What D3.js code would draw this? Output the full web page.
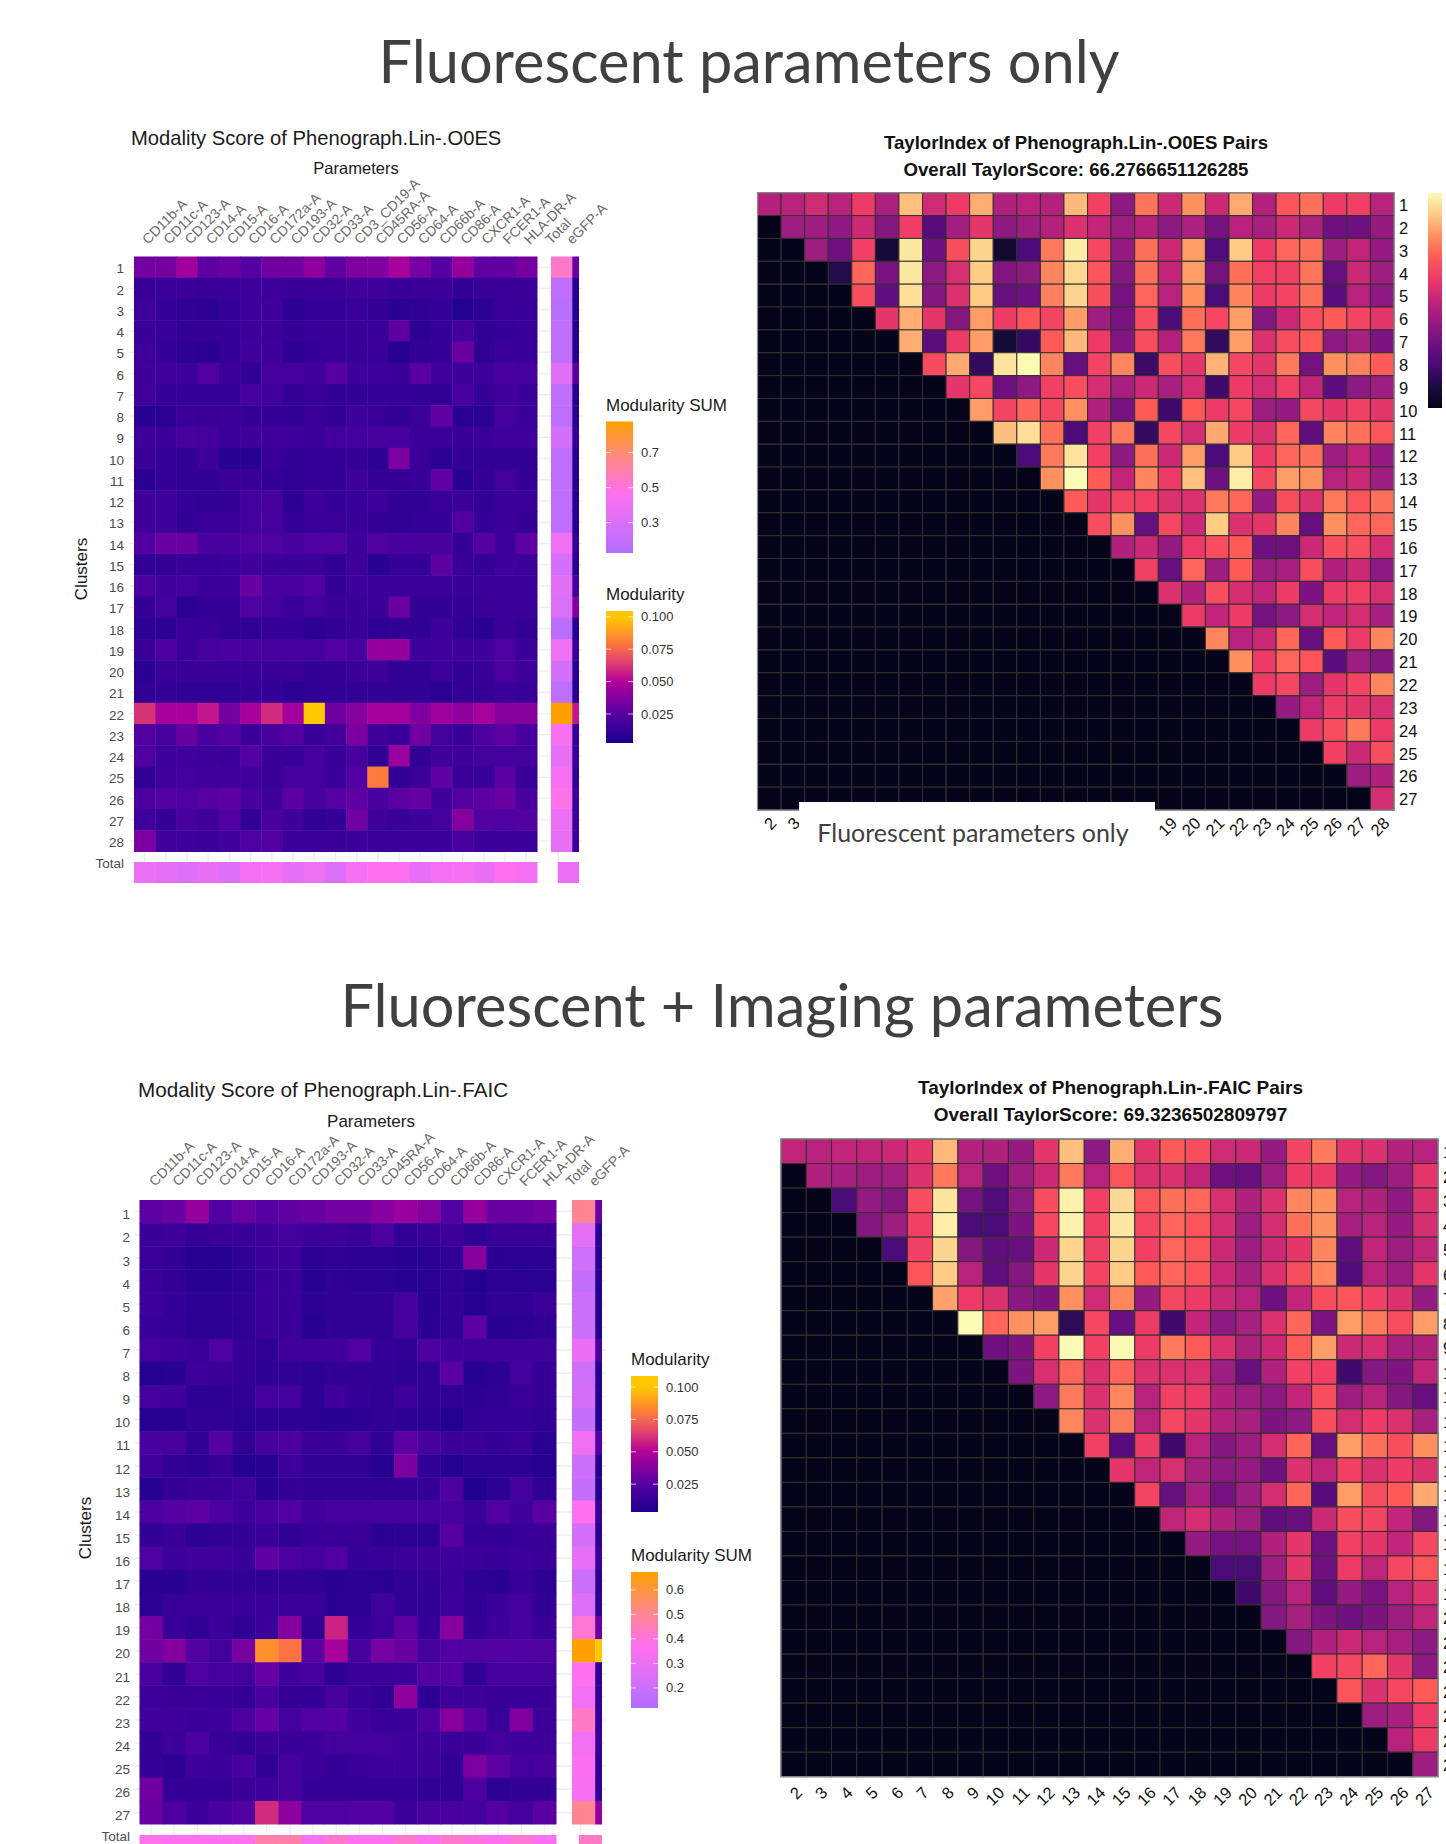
<!doctype html>
<html lang="en">
<head>
  <meta charset="utf-8">
  <title>Modality and TaylorIndex heatmaps</title>
  <script src="https://d3js.org/d3.v7.min.js"></script>
  <style>
    html, body { margin: 0; padding: 0; background: #fff; overflow: hidden; }
    svg { display: block; }
    text { font-family: "Liberation Sans", Arial, sans-serif; }
    .slide { font-family: Lato, "Open Sans", sans-serif; fill: #404040; }
  </style>
</head>
<body>
  <script type="text/javascript">
    // marker names on the two modality heatmaps
    var markersA = ["CD11b-A", "CD11c-A", "CD123-A", "CD14-A", "CD15-A", "CD16-A", "CD172a-A", "CD193-A", "CD32-A", "CD33-A", "CD3_CD19-A", "CD45RA-A", "CD56-A", "CD64-A", "CD66b-A", "CD86-A", "CXCR1-A", "FCER1-A", "HLA-DR-A"];
    var markersB = ["CD11b-A", "CD11c-A", "CD123-A", "CD14-A", "CD15-A", "CD16-A", "CD172a-A", "CD193-A", "CD32-A", "CD33-A", "CD45RA-A", "CD56-A", "CD64-A", "CD66b-A", "CD86-A", "CXCR1-A", "FCER1-A", "HLA-DR-A"];

    // modularity x 1000, one row per cluster
    var modularityA = [
      [33,33,45,27,30,25,32,32,40,28,35,36,47,34,25,42,28,28,33],
      [14,15,15,14,14,16,16,15,15,15,17,17,14,15,15,12,14,15,15],
      [16,13,11,10,13,16,17,10,13,13,14,12,9,11,13,6,10,15,14],
      [15,14,12,13,13,16,16,13,14,14,14,14,27,10,13,18,12,13,14],
      [16,13,10,9,13,17,17,10,13,14,14,14,7,12,13,30,11,15,14],
      [17,17,16,24,15,12,18,18,17,25,17,16,15,26,17,17,16,20,19],
      [17,13,13,13,13,19,17,12,14,12,12,13,13,12,12,20,13,17,15],
      [8,9,15,14,15,13,13,12,14,12,16,14,12,15,28,9,10,19,15],
      [16,15,20,18,14,17,17,16,14,18,18,20,19,15,15,15,15,17,17],
      [15,13,11,16,8,8,14,12,13,13,13,10,35,14,9,12,11,12,12],
      [9,13,12,12,15,14,13,11,13,13,16,13,13,14,28,9,12,18,13],
      [17,16,13,12,12,18,20,10,16,13,14,16,12,11,14,14,12,14,14],
      [17,16,12,14,14,18,19,13,14,14,15,12,12,13,13,24,13,15,13],
      [24,30,30,20,20,22,22,20,22,22,16,22,20,20,20,13,25,16,27],
      [12,12,14,14,15,17,15,15,15,11,16,8,13,13,27,14,13,17,15],
      [21,17,18,15,15,30,20,20,24,12,16,15,15,15,15,15,15,15,15],
      [13,18,9,13,13,22,19,15,18,15,15,15,30,12,12,13,14,15,15],
      [10,10,14,14,11,11,13,13,9,11,14,10,12,12,16,11,9,15,12],
      [15,21,14,19,20,20,18,18,18,23,20,42,42,16,17,17,16,22,15],
      [9,14,14,14,14,14,14,14,12,13,15,16,12,12,16,12,14,21,16],
      [12,13,11,11,11,13,13,10,11,12,12,12,12,12,9,12,13,15,14],
      [62,47,47,55,33,47,60,46,100,32,38,46,46,36,45,40,47,37,38],
      [24,18,30,20,24,15,20,24,14,18,35,17,14,32,18,14,21,28,20],
      [22,16,17,16,15,24,15,14,19,14,19,11,43,12,17,17,18,18,18],
      [11,17,18,17,17,17,14,18,19,15,24,80,12,15,28,14,14,26,14],
      [21,23,22,25,27,20,16,26,19,25,28,20,27,29,17,23,27,30,20],
      [16,13,20,17,24,12,20,17,11,13,32,16,14,17,18,38,24,22,23],
      [35,17,16,15,17,22,24,15,15,15,15,14,14,14,15,20,15,15,15]
    ];
    var rowSumA = [.54,.19,.16,.18,.18,.33,.20,.19,.27,.19,.18,.19,.19,.40,.28,.33,.31,.17,.40,.27,.19,.877,.44,.36,.42,.48,.38,.36];
    var rowGfpA = [30,8,7,9,8,26,9,10,13,9,9,8,8,13,10,18,36,9,14,10,9,55,13,14,11,16,16,15];
    var colSumA = [.38,.34,.32,.36,.32,.41,.43,.35,.39,.31,.42,.46,.46,.36,.41,.43,.37,.46,.41];
    var gfpSumA = [.38];

    var modularityB = [
      [27,30,42,24,30,25,28,30,33,33,38,43,37,24,42,30,30,32],
      [15,16,13,14,14,16,18,16,16,14,21,11,14,16,11,14,14,14],
      [14,11,7,7,11,15,16,9,11,10,10,8,9,11,38,9,9,10],
      [15,12,8,8,10,15,15,8,11,10,10,8,9,11,6,10,9,9],
      [16,13,10,10,12,15,15,10,11,11,12,18,9,12,7,11,11,15],
      [14,13,9,9,11,15,15,8,11,11,11,18,9,11,27,8,9,11],
      [18,17,14,22,13,11,17,17,17,23,13,11,21,17,17,17,17,17],
      [7,8,16,14,13,10,11,9,12,12,11,10,11,26,7,10,18,13],
      [18,17,10,10,12,18,18,10,16,13,11,16,11,11,10,12,14,13],
      [7,7,12,11,9,10,10,9,8,9,11,10,10,6,12,13,13,12],
      [20,20,11,25,11,20,21,14,15,18,11,26,20,15,14,13,15,9],
      [17,12,10,14,7,7,16,12,12,12,7,35,12,7,10,9,10,7],
      [7,13,14,14,17,8,13,11,12,12,11,11,13,21,5,10,18,11],
      [21,25,27,21,16,20,23,17,19,18,19,19,19,19,14,24,17,26],
      [12,15,10,11,13,15,11,14,14,14,9,10,10,25,13,13,14,14],
      [22,16,17,17,14,28,21,18,23,13,14,15,16,16,15,14,16,14],
      [8,8,12,12,12,11,11,11,8,10,9,12,13,15,10,9,14,10],
      [9,14,14,14,14,15,14,14,9,10,17,12,12,16,11,15,18,12],
      [33,14,11,15,11,15,37,11,58,13,15,27,13,38,13,16,19,14],
      [32,37,24,18,34,85,78,26,47,19,34,30,18,23,22,24,22,22],
      [20,12,22,18,18,29,17,19,10,15,15,15,24,24,11,18,18,18],
      [16,15,14,14,13,20,13,13,19,14,11,40,10,16,16,14,14,14],
      [17,17,15,16,21,29,18,24,25,17,14,14,21,38,26,14,36,15],
      [12,16,21,14,12,15,15,15,18,18,18,17,17,15,15,18,16,16],
      [13,10,16,15,20,11,18,15,13,14,16,16,16,12,35,27,18,20],
      [32,13,13,13,15,16,18,13,13,13,13,13,11,11,21,10,12,12],
      [30,21,15,20,24,60,40,22,22,23,24,15,20,20,18,24,18,26]
    ];
    var rowSumB = [.50,.28,.21,.18,.20,.20,.30,.21,.22,.18,.32,.20,.18,.36,.23,.29,.20,.25,.41,.673,.36,.33,.43,.33,.35,.34,.50];
    var rowGfpB = [30,9,7,7,7,7,20,8,8,7,24,7,8,14,10,16,9,10,30,100,12,12,13,15,12,12,42];
    var colSumB = [.38,.36,.36,.35,.36,.47,.47,.34,.42,.36,.36,.42,.36,.42,.39,.36,.41,.35];
    var gfpSumB = [.43];

    // TaylorIndex upper triangles, each row starts at the column after its own number
    var taylorA = [
      [.47,.48,.53,.48,.6,.45,.88,.53,.6,.85,.46,.48,.47,.87,.62,.38,.75,.52,.80,.52,.84,.47,.68,.74,.6,.62,.48],
      [.42,.42,.38,.52,.36,.61,.24,.43,.58,.38,.42,.47,.56,.5,.42,.47,.38,.45,.32,.48,.44,.52,.45,.3,.3,.4],
      [.42,.30,.62,.08,.96,.3,.66,.92,.06,.2,.76,.97,.64,.4,.74,.52,.82,.22,.9,.6,.72,.74,.42,.5,.4],
      [.12,.72,.33,.96,.38,.55,.9,.35,.38,.78,.93,.68,.36,.74,.5,.82,.32,.74,.62,.62,.75,.28,.52,.42],
      [.66,.26,.94,.36,.56,.9,.28,.3,.77,.92,.66,.32,.72,.48,.8,.2,.78,.6,.63,.74,.25,.48,.38],
      [.58,.85,.58,.36,.82,.6,.68,.63,.82,.42,.33,.66,.2,.74,.64,.82,.36,.52,.66,.7,.63,.58],
      [.85,.25,.6,.82,.08,.16,.7,.87,.6,.35,.66,.47,.76,.15,.82,.56,.66,.7,.38,.44,.34],
      [.65,.84,.15,.95,1,.78,.28,.63,.78,.17,.66,.58,.86,.64,.58,.76,.32,.8,.77,.7],
      [.58,.64,.3,.38,.62,.66,.54,.44,.52,.44,.54,.18,.6,.54,.62,.5,.25,.38,.42],
      [.82,.63,.72,.64,.8,.46,.32,.7,.18,.7,.6,.64,.42,.4,.64,.58,.62,.58],
      [.88,.94,.74,.2,.62,.76,.16,.64,.54,.84,.6,.56,.72,.26,.78,.74,.68],
      [.2,.76,.95,.62,.38,.74,.52,.82,.2,.9,.6,.72,.74,.42,.5,.4],
      [.8,1,.7,.5,.78,.6,.88,.3,.97,.64,.82,.8,.48,.52,.42],
      [.7,.58,.63,.62,.56,.56,.76,.72,.4,.66,.56,.76,.68,.74],
      [.66,.8,.28,.64,.52,.9,.56,.58,.78,.28,.8,.72,.72],
      [.46,.52,.4,.6,.66,.7,.3,.3,.52,.66,.66,.54],
      [.62,.28,.72,.42,.7,.42,.44,.66,.46,.52,.38],
      [.56,.46,.66,.54,.5,.6,.34,.6,.62,.55],
      [.6,.5,.6,.32,.38,.54,.5,.54,.44],
      [.78,.48,.52,.72,.28,.7,.6,.78],
      [.8,.6,.72,.68,.25,.42,.36],
      [.6,.64,.42,.58,.63,.78],
      [.4,.5,.6,.58,.55],
      [.6,.66,.76,.6],
      [.62,.52,.66],
      [.42,.46],
      [.54]
    ];
    var taylorB = [
      [.5,.48,.5,.5,.52,.58,.87,.47,.46,.4,.58,.88,.38,.85,.58,.7,.66,.53,.52,.4,.63,.76,.58,.56,.47,.48],
      [.46,.44,.42,.43,.56,.76,.48,.3,.42,.52,.76,.48,.68,.56,.56,.5,.3,.28,.42,.6,.6,.4,.36,.42,.58],
      [.2,.4,.36,.66,.95,.32,.22,.38,.66,.98,.62,.93,.68,.74,.72,.55,.46,.56,.78,.8,.48,.46,.38,.56],
      [.36,.42,.62,.97,.2,.2,.34,.64,.98,.62,.96,.64,.72,.68,.54,.42,.54,.74,.8,.44,.48,.4,.54],
      [.2,.62,.92,.36,.26,.28,.52,.92,.62,.92,.62,.72,.68,.52,.42,.52,.58,.78,.26,.5,.42,.5],
      [.68,.9,.48,.26,.36,.58,.92,.63,.9,.7,.72,.68,.52,.44,.56,.66,.78,.22,.48,.42,.58],
      [.83,.6,.56,.37,.34,.8,.53,.78,.4,.64,.6,.52,.48,.3,.5,.66,.68,.62,.56,.4],
      [1,.72,.8,.82,.14,.64,.28,.6,.18,.5,.38,.44,.56,.72,.34,.82,.76,.66,.82],
      [.3,.34,.62,1,.62,1,.6,.76,.7,.56,.45,.52,.7,.82,.52,.54,.44,.46],
      [.34,.55,.72,.56,.72,.56,.56,.56,.42,.28,.46,.62,.62,.18,.36,.34,.5],
      [.38,.76,.56,.78,.48,.62,.6,.46,.42,.38,.5,.66,.42,.48,.36,.28],
      [.78,.56,.76,.48,.64,.58,.47,.44,.34,.38,.66,.54,.6,.56,.44],
      [.62,.24,.6,.18,.48,.36,.42,.54,.72,.28,.82,.74,.66,.8],
      [.58,.5,.55,.44,.38,.4,.3,.56,.5,.62,.56,.6,.56],
      [.63,.28,.44,.32,.42,.54,.72,.24,.82,.66,.7,.84],
      [.5,.54,.46,.42,.26,.28,.52,.66,.63,.5,.36],
      [.4,.32,.32,.46,.58,.3,.62,.58,.5,.64],
      [.2,.2,.42,.58,.3,.6,.5,.64,.68],
      [.18,.36,.48,.26,.4,.33,.48,.56],
      [.36,.44,.34,.3,.34,.42,.5],
      [.36,.46,.52,.48,.44,.38],
      [.62,.64,.72,.58,.38],
      [.68,.56,.64,.7],
      [.42,.44,.6],
      [.48,.6],
      [.42]
    ];

    var modTicks = [25, 50, 75, 100];
    var sumTicksA = [0.3, 0.5, 0.7];
    var sumTicksB = [0.2, 0.3, 0.4, 0.5, 0.6];

    var width = 1446;
    var height = 1844;

    var svg = d3.select("body").append("svg")
      .attr("width", width)
      .attr("height", height);
    var defs = svg.append("defs");

    // colour ramps
    var modStops = [0, 25, 50, 65, 80, 100];
    var modColors = ["#12008a", "#5600a3", "#b3009a", "#e2406f", "#ff7a3c", "#ffc800"];
    var sumFractions = [0, .22, .45, .7, 1];
    var sumColors = ["#b06eff", "#d86ff8", "#ff70f0", "#ff8590", "#ffa000"];
    var taylorStops = [0, .1, .2, .3, .4, .5, .6, .7, .8, .9, 1];
    var taylorColors = ["#05041a", "#1a0b40", "#4a0a78", "#6e1080", "#951b82", "#c2247a", "#ee3a67", "#ff5a58", "#ff9060", "#ffcb85", "#fcfbb5"];

    var modColor = d3.scaleLinear().domain(modStops).range(modColors).clamp(true);
    var taylorColor = d3.scaleLinear().domain(taylorStops).range(taylorColors).clamp(true);

    function sumColorFor(domain) {
      return d3.scaleLinear()
        .domain(sumFractions.map(function(f) { return domain[0] + f * (domain[1] - domain[0]); }))
        .range(sumColors)
        .clamp(true);
    }

    function gridLines(g, x, y) {
      // the pale theme grid shows through wherever there are no cells
      g.append("g").selectAll("line").data(y.domain()).join("line")
        .attr("x1", x.left - 5).attr("x2", x.right + 3)
        .attr("y1", function(d) { return y(d) + y.bandwidth() / 2; })
        .attr("y2", function(d) { return y(d) + y.bandwidth() / 2; })
        .attr("stroke", "#efefef").attr("stroke-width", 1.5);
    }

    function drawModality(o) {
      var g = svg.append("g");
      var rows = o.values.map(function(d, i) { return String(i + 1); });
      var x = d3.scaleBand().domain(o.markers).range([o.left, o.right]);
      var y = d3.scaleBand().domain(rows).range([o.top, o.bottom]);
      var stripX = d3.scaleBand().domain(["Total"]).range([o.stripLeft, o.stripLeft + x.bandwidth()]);
      var bottomX = d3.scaleBand().domain(["Total"]).range([o.stripRight - x.bandwidth(), o.stripRight]);
      var sumColor = sumColorFor(o.sumDomain);
      var stripEnd = stripX.range()[1];

      gridLines(g, { left: o.left, right: o.stripRight }, y);
      // vertical grid between the main block and the totals row
      g.append("g").selectAll("line").data(o.markers).join("line")
        .attr("x1", function(d) { return x(d) + x.bandwidth() / 2; })
        .attr("x2", function(d) { return x(d) + x.bandwidth() / 2; })
        .attr("y1", o.bottom).attr("y2", o.totalTop)
        .attr("stroke", "#efefef").attr("stroke-width", 1.5);
      g.append("line")
        .attr("x1", bottomX("Total") + bottomX.bandwidth() / 2 - 10).attr("x2", bottomX("Total") + bottomX.bandwidth() / 2 - 10)
        .attr("y1", o.bottom).attr("y2", o.totalBottom)
        .attr("stroke", "#efefef").attr("stroke-width", 1.5);

      o.values.forEach(function(row, r) {
        g.append("g").selectAll("rect").data(row).join("rect")
          .attr("x", function(d, i) { return x(o.markers[i]); })
          .attr("y", y(rows[r]))
          .attr("width", x.bandwidth() + 0.5)
          .attr("height", y.bandwidth() + 0.5)
          .attr("fill", function(d) { return modColor(d); });
      });

      // Total column, eGFP is cut off by the panel edge
      g.append("g").selectAll("rect").data(o.rowSum).join("rect")
        .attr("x", stripX("Total"))
        .attr("y", function(d, i) { return y(rows[i]); })
        .attr("width", stripX.bandwidth())
        .attr("height", y.bandwidth() + 0.5)
        .attr("fill", function(d) { return sumColor(d); });
      g.append("g").selectAll("rect").data(o.rowGfp).join("rect")
        .attr("x", stripEnd)
        .attr("y", function(d, i) { return y(rows[i]); })
        .attr("width", o.stripRight - stripEnd)
        .attr("height", y.bandwidth() + 0.5)
        .attr("fill", function(d) { return modColor(d); });

      // Total row
      g.append("g").selectAll("rect").data(o.colSum).join("rect")
        .attr("x", function(d, i) { return x(o.markers[i]); })
        .attr("y", o.totalTop)
        .attr("width", x.bandwidth() + 0.5)
        .attr("height", o.totalBottom - o.totalTop)
        .attr("fill", function(d) { return sumColor(d); });
      g.append("g").selectAll("rect").data(o.gfpSum).join("rect")
        .attr("x", bottomX("Total"))
        .attr("y", o.totalTop)
        .attr("width", bottomX.bandwidth())
        .attr("height", o.totalBottom - o.totalTop)
        .attr("fill", function(d) { return sumColor(d); });

      // cluster labels
      var yAxis = d3.axisLeft(y).tickSize(0).tickPadding(0);
      var yGroup = g.append("g").attr("transform", "translate(" + o.tickX + "," + o.tickDy + ")").call(yAxis);
      yGroup.select(".domain").remove();
      yGroup.selectAll("text").attr("font-size", o.tickSize).attr("fill", "#4d4d4d").style("font-family", "Liberation Sans");

      g.append("text").attr("x", o.tickX).attr("y", o.totalTop + 2)
        .attr("dy", ".32em").attr("text-anchor", "end")
        .attr("font-size", o.tickSize).attr("fill", "#4d4d4d").text("Total");

      // marker labels, plus the two strip labels
      var labels = o.markers.concat(["Total", "eGFP-A"]);
      g.append("g").selectAll("text").data(labels).join("text")
        .attr("transform", function(d, i) {
          var px = o.left + o.labelDx + i * x.bandwidth();
          return "translate(" + px + "," + o.labelY + ") rotate(-45)";
        })
        .attr("font-size", o.labelSize)
        .attr("fill", "#6a6a6a")
        .text(function(d) { return d; });

      g.append("text").attr("x", o.titleX).attr("y", o.titleY)
        .attr("font-size", o.titleSize).attr("fill", "#1a1a1a").text(o.title);
      g.append("text").attr("x", o.paramX).attr("y", o.paramY).attr("text-anchor", "middle")
        .attr("font-size", o.paramSize).attr("fill", "#1a1a1a").text("Parameters");
      g.append("text")
        .attr("transform", "translate(" + o.clusterX + "," + o.clusterY + ") rotate(-90)")
        .attr("text-anchor", "middle").attr("font-size", 17).attr("fill", "#1a1a1a").text("Clusters");
    }

    function drawLegend(o) {
      var g = svg.append("g");
      var id = "grad" + defs.selectAll("linearGradient").size();
      var y = d3.scaleLinear().domain(o.domain).range([o.bottom, o.top]);
      var grad = defs.append("linearGradient").attr("id", id)
        .attr("x1", 0).attr("y1", 1).attr("x2", 0).attr("y2", 0);
      d3.range(0, 1.0001, 0.05).forEach(function(f) {
        grad.append("stop").attr("offset", f)
          .attr("stop-color", o.color(o.domain[0] + f * (o.domain[1] - o.domain[0])));
      });
      g.append("text").attr("x", o.x).attr("y", o.top - 11)
        .attr("font-size", 17).attr("fill", "#1a1a1a").text(o.title);
      g.append("rect").attr("x", o.x).attr("y", o.top)
        .attr("width", o.barWidth).attr("height", o.bottom - o.top)
        .attr("fill", "url(#" + id + ")");
      g.append("g").selectAll("path").data(o.ticks).join("path")
        .attr("d", function(d) {
          var ty = y(d);
          return "M" + o.x + "," + ty + "h5M" + (o.x + o.barWidth - 5) + "," + ty + "h5";
        })
        .attr("stroke", "#fff").attr("stroke-opacity", 0.7).attr("fill", "none");
      g.append("g").selectAll("text").data(o.ticks).join("text")
        .attr("x", o.x + o.barWidth + 8)
        .attr("y", function(d) { return y(d); })
        .attr("dy", ".35em")
        .attr("font-size", 13).attr("fill", "#333")
        .text(o.label);
    }

    function drawTaylor(o) {
      var g = svg.append("g");
      var n = o.values.length;
      var rows = d3.range(1, n + 1).map(String);
      var cols = d3.range(2, n + 2).map(String);
      var x = d3.scaleBand().domain(cols).range([o.left, o.right]);
      var y = d3.scaleBand().domain(rows).range([o.top, o.bottom]);

      o.values.forEach(function(row, r) {
        // pad the lower triangle, which is all zero
        var full = d3.range(r).map(function() { return 0; }).concat(row);
        g.append("g").selectAll("rect").data(full).join("rect")
          .attr("x", function(d, i) { return x(cols[i]); })
          .attr("y", y(rows[r]))
          .attr("width", x.bandwidth())
          .attr("height", y.bandwidth())
          .attr("fill", function(d) { return taylorColor(d); })
          .attr("stroke", "#34302f")
          .attr("stroke-width", 1);
      });
      g.append("rect").attr("x", o.left).attr("y", o.top)
        .attr("width", o.right - o.left).attr("height", o.bottom - o.top)
        .attr("fill", "none").attr("stroke", "#8c8c8c").attr("stroke-width", 1.2);

      var rightAxis = d3.axisRight(y).tickSize(0).tickPadding(5);
      var rightGroup = g.append("g").attr("transform", "translate(" + o.right + ",1.5)").call(rightAxis);
      rightGroup.select(".domain").remove();
      rightGroup.selectAll("text").attr("font-size", 16.5).attr("fill", "#111").style("font-family", "Liberation Sans");

      g.append("g").selectAll("text").data(cols).join("text")
        .attr("transform", function(d) {
          return "translate(" + (x(d) + x.bandwidth() / 2 + o.colDx) + "," + (o.bottom + o.colDy) + ") rotate(-45)";
        })
        .attr("text-anchor", "end")
        .attr("dy", ".7em")
        .attr("font-size", 16.5).attr("fill", "#111")
        .text(function(d) { return d; });

      g.append("text").attr("x", o.titleX).attr("y", o.titleY1).attr("text-anchor", "middle")
        .attr("font-size", o.titleSize).attr("font-weight", "bold").attr("fill", "#111").text(o.title1);
      g.append("text").attr("x", o.titleX).attr("y", o.titleY2).attr("text-anchor", "middle")
        .attr("font-size", o.titleSize).attr("font-weight", "bold").attr("fill", "#111").text(o.title2);
    }

    function modLabel(d) { return d3.format(".3f")(d / 1000); }
    function sumLabel(d) { return d3.format(".1f")(d); }

    // --- top row ---
    var sumDomainA = [0.127, 0.877];
    var sumDomainB = [0.118, 0.673];

    svg.append("text").attr("class", "slide").attr("x", 749).attr("y", 83)
      .attr("text-anchor", "middle").attr("font-size", 59.5).text("Fluorescent parameters only");
    svg.append("text").attr("class", "slide").attr("x", 782).attr("y", 1027)
      .attr("text-anchor", "middle").attr("font-size", 59.5).text("Fluorescent + Imaging parameters");

    drawModality({
      markers: markersA, values: modularityA, rowSum: rowSumA, rowGfp: rowGfpA, colSum: colSumA, gfpSum: gfpSumA,
      left: 134, right: 537, top: 256.5, bottom: 851.5, stripLeft: 551, stripRight: 579,
      totalTop: 862, totalBottom: 883, sumDomain: sumDomainA, tickX: 124, tickDy: 2, tickSize: 13.5, labelDx: 14, labelY: 245,
      labelSize: 14, title: "Modality Score of Phenograph.Lin-.O0ES", titleX: 131, titleY: 145, titleSize: 20.2,
      paramX: 356, paramY: 174, paramSize: 16.5, clusterX: 87, clusterY: 569
    });
    drawLegend({ title: "Modularity SUM", x: 606, barWidth: 27, top: 421.5, bottom: 553, domain: sumDomainA,
      ticks: sumTicksA, color: sumColorFor(sumDomainA), label: sumLabel });
    drawLegend({ title: "Modularity", x: 606, barWidth: 27, top: 611, bottom: 743, domain: [2.6, 104.5],
      ticks: modTicks, color: modColor, label: modLabel });

    drawTaylor({
      values: taylorA, left: 757.5, right: 1394, top: 192.7, bottom: 810, colDx: 0, colDy: 6,
      title1: "TaylorIndex of Phenograph.Lin-.O0ES Pairs", title2: "Overall TaylorScore: 66.2766651126285",
      titleX: 1076, titleY1: 149, titleY2: 176, titleSize: 18.6
    });

    // white patch laid over the axis labels, with its caption
    svg.append("rect").attr("x", 799).attr("y", 802).attr("width", 356).attr("height", 58).attr("fill", "#fff");
    svg.append("text").attr("class", "slide").attr("x", 973).attr("y", 842)
      .attr("text-anchor", "middle").attr("font-size", 25).text("Fluorescent parameters only");

    // taylor colour bar
    var barY = d3.scaleLinear().domain([0, 1]).range([408, 193]);
    var barGrad = defs.append("linearGradient").attr("id", "taylorBar")
      .attr("x1", 0).attr("y1", 1).attr("x2", 0).attr("y2", 0);
    taylorStops.forEach(function(s, i) {
      barGrad.append("stop").attr("offset", s).attr("stop-color", taylorColors[i]);
    });
    svg.append("rect").attr("x", 1428).attr("y", barY(1))
      .attr("width", 14).attr("height", barY(0) - barY(1))
      .attr("fill", "url(#taylorBar)");

    // --- bottom row ---
    drawModality({
      markers: markersB, values: modularityB, rowSum: rowSumB, rowGfp: rowGfpB, colSum: colSumB, gfpSum: gfpSumB,
      left: 139.5, right: 556, top: 1200, bottom: 1824, stripLeft: 572, stripRight: 602,
      totalTop: 1835, totalBottom: 1858, sumDomain: sumDomainB, tickX: 130, tickDy: 3.5, tickSize: 13.5, labelDx: 15.5, labelY: 1187,
      labelSize: 14, title: "Modality Score of Phenograph.Lin-.FAIC", titleX: 138, titleY: 1097, titleSize: 20.7,
      paramX: 371, paramY: 1127, paramSize: 17, clusterX: 91, clusterY: 1528
    });
    drawLegend({ title: "Modularity", x: 631, barWidth: 27, top: 1376, bottom: 1512, domain: [3.5, 108.5],
      ticks: modTicks, color: modColor, label: modLabel });
    drawLegend({ title: "Modularity SUM", x: 631, barWidth: 27, top: 1572, bottom: 1708, domain: sumDomainB,
      ticks: sumTicksB, color: sumColorFor(sumDomainB), label: sumLabel });

    drawTaylor({
      values: taylorB, left: 781, right: 1438, top: 1139, bottom: 1776.7, colDx: 1.5, colDy: 9,
      title1: "TaylorIndex of Phenograph.Lin-.FAIC Pairs", title2: "Overall TaylorScore: 69.3236502809797",
      titleX: 1110.5, titleY1: 1094, titleY2: 1121, titleSize: 19
    });
  </script>
</body>
</html>
